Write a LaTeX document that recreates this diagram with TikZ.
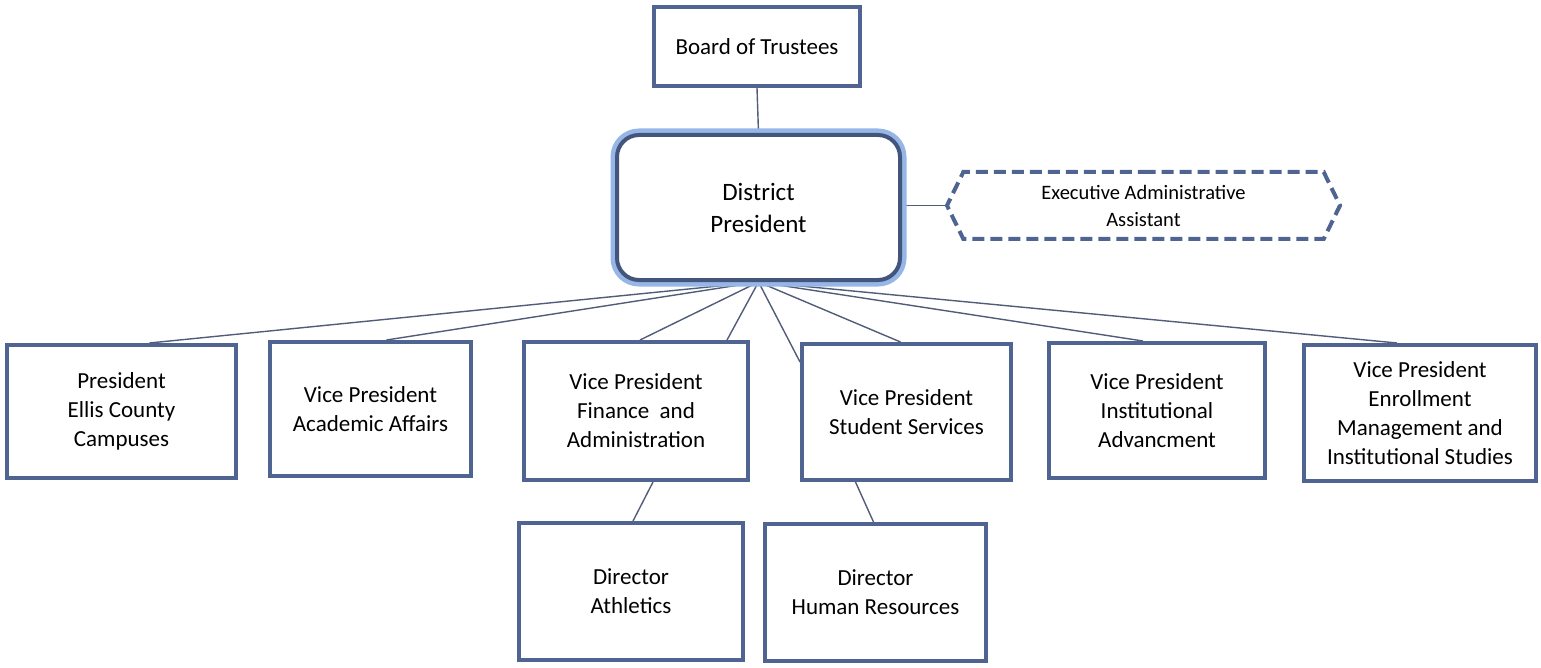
\documentclass[tikz,border=0pt]{standalone}
\usepackage{fontspec}
\setmainfont{Carlito}
\usetikzlibrary{shapes.symbols,backgrounds}
\definecolor{boxblue}{RGB}{80,100,145}
\definecolor{linkblue}{RGB}{80,92,120}
\definecolor{glowblue}{RGB}{150,182,232}

\begin{document}
\begin{tikzpicture}[x=1pt,y=-1pt]
            \tikzstyle{every node}=[font=\fontsize{23}{29}\selectfont, align=center]
            \tikzstyle{unit}=[draw=boxblue, line width=4pt, fill=white, inner sep=2pt]
            \tikzstyle{link}=[draw=linkblue, line width=1.4pt]

            \useasboundingbox (0,0) rectangle (1541,668);

            \node[unit, minimum width=206pt, minimum height=79pt] (bot) at (757,46.5) {Board of Trustees};

            \node[unit, draw=boxblue!85!black, rounded corners=22pt, minimum width=283pt, minimum height=145pt,
                  font=\fontsize{25}{32}\selectfont,
                  preaction={draw=glowblue, line width=13pt}] (dp) at (758.5,207.5) {District\\President};

            \node[signal, signal to=west and east, signal pointer angle=128, draw=boxblue, line width=4pt,
                  dash pattern=on 12pt off 6pt, minimum width=393pt, minimum height=67pt,
                  font=\fontsize{20.5}{27}\selectfont] (eaa) at (1143.5,205.5) {Executive Administrative\\Assistant};

            \node[unit, minimum width=229pt, minimum height=133pt] (pec) at (121.5,411.5) {President\\Ellis County\\Campuses};
            \node[unit, minimum width=201pt, minimum height=134pt] (aca) at (370.5,409) {Vice President\\Academic Affairs};
            \node[unit, minimum width=224pt, minimum height=138pt] (fin) at (636,411) {Vice President\\Finance\ \ and\\Administration};
            \node[unit, minimum width=209pt, minimum height=136pt] (stu) at (906.5,412) {Vice President\\Student Services};
            \node[unit, minimum width=216pt, minimum height=135pt] (adv) at (1157,410.5) {Vice President\\Institutional\\Advancment};
            \node[unit, minimum width=232pt, minimum height=136pt] (enr) at (1420,413) {Vice President\\Enrollment\\Management and\\Institutional Studies};

            \node[unit, minimum width=224pt, minimum height=137pt] (ath) at (631,591.5) {Director\\Athletics};
            \node[unit, minimum width=221pt, minimum height=137pt] (hr) at (875.5,592.5) {Director\\Human Resources};

            \begin{pgfonlayer}{background}
            \draw[link] (bot.south) -- (dp.north);
            \draw[link] (dp.east |- eaa.west) -- (eaa.west);

            \draw[link] (dp.south) -- ([xshift=28pt]pec.north);
            \draw[link] (dp.south) -- ([xshift=16pt]aca.north);
            \draw[link] (dp.south) -- ([xshift=4pt]fin.north);
            \draw[link] (dp.south) -- ([xshift=91pt]fin.north);
            \draw[link] (dp.south) -- ([yshift=-20pt]stu.north west);
            \draw[link] (dp.south) -- ([xshift=-6pt]stu.north);
            \draw[link] (dp.south) -- ([xshift=-14pt]adv.north);
            \draw[link] (dp.south) -- ([xshift=-23pt]enr.north);

            \draw[link] ([xshift=17pt]fin.south) -- ([xshift=2pt]ath.north);
            \draw[link] ([xshift=-51pt]stu.south) -- ([xshift=-2pt]hr.north);
            \end{pgfonlayer}

          \end{tikzpicture}
\end{document}
